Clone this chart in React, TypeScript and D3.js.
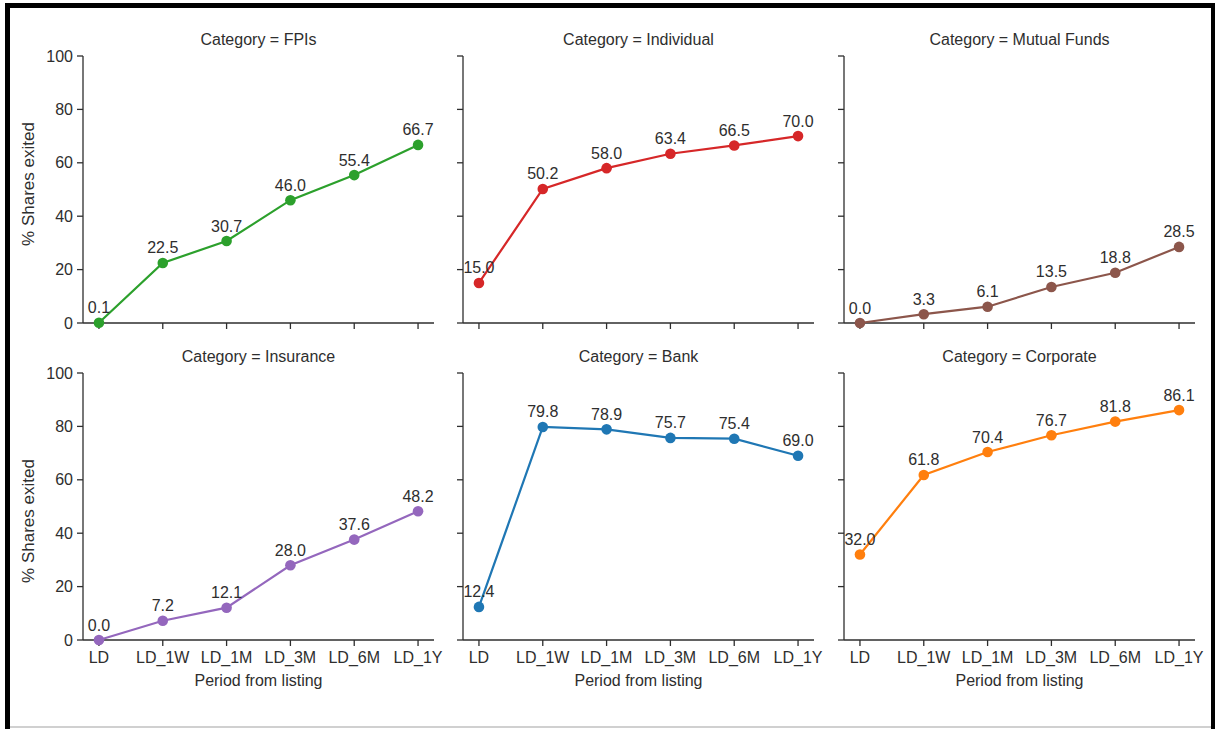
import React from "react";
import * as d3 from "d3";

const periods = ["LD", "LD_1W", "LD_1M", "LD_3M", "LD_6M", "LD_1Y"];
const categories = ["FPIs", "Individual", "Mutual Funds", "Insurance", "Bank", "Corporate"];
const fpis = [0.1, 22.5, 30.7, 46.0, 55.4, 66.7];
const individual = [15.0, 50.2, 58.0, 63.4, 66.5, 70.0];
const mutualFunds = [0.0, 3.3, 6.1, 13.5, 18.8, 28.5];
const insurance = [0.0, 7.2, 12.1, 28.0, 37.6, 48.2];
const bank = [12.4, 79.8, 78.9, 75.7, 75.4, 69.0];
const corporate = [32.0, 61.8, 70.4, 76.7, 81.8, 86.1];
const seriesValues = [fpis, individual, mutualFunds, insurance, bank, corporate];
const colors = ["#2ca02c", "#d62728", "#8c564b", "#9467bd", "#1f77b4", "#ff7f0e"];
const yTicks = [0, 20, 40, 60, 80, 100];

const W = 1216;
const H = 729;
const colX = [83, 463, 844];
const rowY = [56, 373];
const PW = 351;
const PH = 267;
const ylabelCenters = [184, 521];
const TXT = "#2e2e2e";
const FONT = "'Liberation Sans', Arial, Helvetica, sans-serif";
const FS = 16;

function Panel({ idx }: { idx: number }) {
  const col = idx % 3;
  const row = Math.floor(idx / 3);
  const x0 = colX[col];
  const y0 = rowY[row];
  const x = d3.scalePoint<string>().domain(periods).range([x0, x0 + PW]).padding(0.25);
  const y = d3.scaleLinear().domain([0, 100]).range([y0 + PH, y0]);
  const vals = seriesValues[idx];
  const pts = periods.map((p, i) => [x(p) as number, y(vals[i])] as [number, number]);
  const line = d3.line()(pts) || "";
  const color = colors[idx];
  return (
    <g>
      <text x={x0 + PW / 2} y={y0 - 11} textAnchor="middle" fontSize={FS} fill={TXT}>
        {`Category = ${categories[idx]}`}
      </text>
      <line x1={x0} x2={x0} y1={y0} y2={y0 + PH} stroke={TXT} strokeWidth={1.3} />
      {yTicks.map((t) => (
        <g key={t}>
          <line x1={x0 - 6} x2={x0} y1={y(t)} y2={y(t)} stroke={TXT} strokeWidth={1.3} />
          {col === 0 && (
            <text x={x0 - 10} y={y(t)} dy="0.35em" textAnchor="end" fontSize={FS} fill={TXT}>
              {t}
            </text>
          )}
        </g>
      ))}
      <line x1={x0} x2={x0 + PW} y1={y0 + PH} y2={y0 + PH} stroke={TXT} strokeWidth={1.3} />
      {periods.map((p) => (
        <g key={p}>
          <line x1={x(p)} x2={x(p)} y1={y0 + PH} y2={y0 + PH + 6} stroke={TXT} strokeWidth={1.3} />
          {row === 1 && (
            <text x={x(p)} y={y0 + PH + 23} textAnchor="middle" fontSize={FS} fill={TXT}>
              {p}
            </text>
          )}
        </g>
      ))}
      {row === 1 && (
        <text x={x0 + PW / 2} y={y0 + PH + 46} textAnchor="middle" fontSize={FS} fill={TXT}>
          Period from listing
        </text>
      )}
      {col === 0 && (
        <text
          transform={`translate(34,${ylabelCenters[row]}) rotate(-90)`}
          textAnchor="middle"
          fontSize={17}
          fill={TXT}
        >
          % Shares exited
        </text>
      )}
      <path d={line} fill="none" stroke={color} strokeWidth={2.2} />
      {pts.map(([px, py], i) => (
        <circle key={i} cx={px} cy={py} r={5.3} fill={color} />
      ))}
      {pts.map(([px, py], i) => (
        <text key={"l" + i} x={px} y={py - 9.5} textAnchor="middle" fontSize={FS} fill={TXT}>
          {vals[i].toFixed(1)}
        </text>
      ))}
    </g>
  );
}

export default function App() {
  return (
    <svg
      width={W}
      height={H}
      style={{ position: "absolute", left: 0, top: 0, fontFamily: FONT, background: "#fff" }}
    >
      <rect x={0} y={0} width={W} height={H} fill="#fff" />
      <rect x={5} y={3} width={5} height={H - 3} fill="#000" />
      <rect x={5} y={3} width={1211 - 5} height={5} fill="#000" />
      <rect x={1211} y={3} width={4} height={H - 3} fill="#000" />
      <rect x={10} y={726} width={1201} height={2} fill="#d0d0d0" />
      {categories.map((c, i) => (
        <Panel key={c} idx={i} />
      ))}
    </svg>
  );
}
